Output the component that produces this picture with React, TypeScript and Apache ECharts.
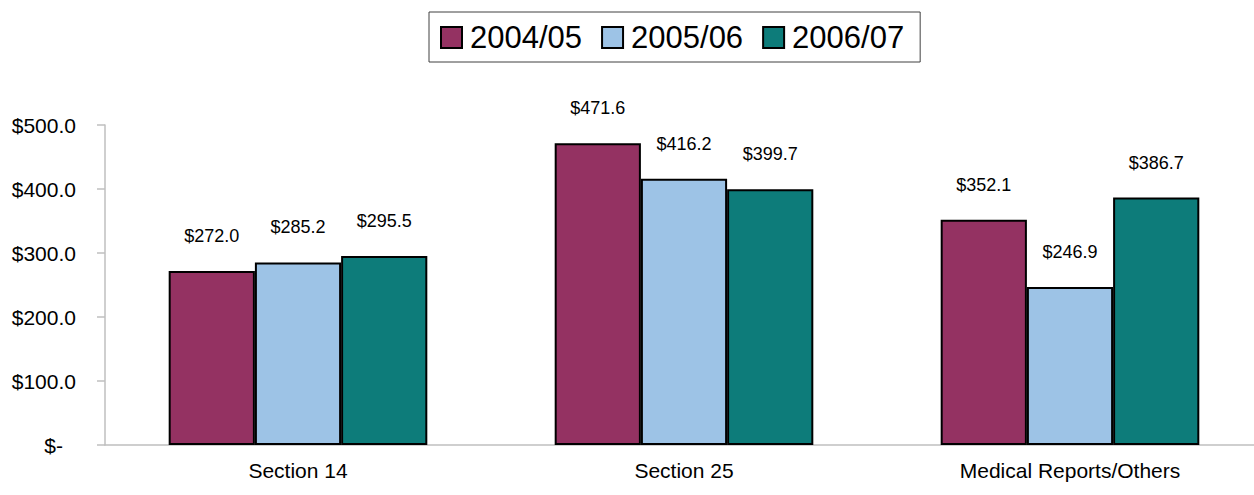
import React, { useEffect, useRef } from "react";
import * as echarts from "echarts";

const categories = ["Section 14", "Section 25", "Medical Reports/Others"];
const seriesNames = ["2004/05", "2005/06", "2006/07"];
const values2004 = [272.0, 471.6, 352.1];
const values2005 = [285.2, 416.2, 246.9];
const values2006 = [295.5, 399.7, 386.7];
const colors = ["#943262", "#9DC3E6", "#0D7C7A"];
const yTicks = { min: 0, max: 500, interval: 100 };

const FONT = "Arial, 'Liberation Sans', sans-serif";

export default function App() {
  const ref = useRef<HTMLDivElement>(null);
  useEffect(() => {
    if (!ref.current) return;
    const chart = echarts.init(ref.current, undefined, { renderer: "svg" });
    const data = [values2004, values2005, values2006];
    chart.setOption({
      animation: false,
      textStyle: { fontFamily: FONT },
      legend: {
        left: 429,
        top: 12,
        padding: [10, 16, 9, 11],
        borderColor: "#404040",
        borderWidth: 1,
        icon: "rect",
        itemWidth: 21,
        itemHeight: 21,
        itemGap: 19,
        textStyle: { fontSize: 31, color: "#000", fontFamily: FONT, padding: [0, 0, 0, 3] },
        data: seriesNames,
      },
      grid: { left: 105, top: 125, width: 1158, bottom: 50, containLabel: false, outerBoundsMode: "none" },
      xAxis: {
        type: "category",
        data: categories,
        axisLine: { lineStyle: { color: "#BFBFBF", width: 1.5 } },
        axisTick: { show: false },
        axisLabel: { fontSize: 21, color: "#000", margin: 15, fontFamily: FONT },
      },
      yAxis: {
        type: "value",
        min: yTicks.min,
        max: yTicks.max,
        interval: yTicks.interval,
        splitLine: { show: false },
        axisLine: { show: true, lineStyle: { color: "#BFBFBF", width: 1.5 } },
        axisTick: { show: true, length: 8, lineStyle: { color: "#BFBFBF", width: 1.5 } },
        axisLabel: {
          fontSize: 21,
          color: "#000",
          margin: 29,
          fontFamily: FONT,
          formatter: (v: number) => (v === 0 ? "{d|$-}" : "$" + v.toFixed(1)),
          rich: { d: { fontSize: 21, color: "#000", padding: [0, 13, 0, 0], fontFamily: FONT } },
        },
      },
      series: seriesNames.map((name, i) => ({
        name,
        type: "bar",
        data: data[i],
        barGap: "0%",
        barCategoryGap: "33%",
        itemStyle: { color: colors[i], borderColor: "#000", borderWidth: 2 },
        label: {
          show: true,
          position: "top",
          distance: 26,
          fontSize: 18,
          color: "#000",
          fontFamily: FONT,
          formatter: (p: any) => "$" + Number(p.value).toFixed(1),
        },
      })),
    });
    return () => chart.dispose();
  }, []);
  return (
    <div
      ref={ref}
      style={{ position: "fixed", left: 0, top: 0, width: 1254, height: 495, background: "#fff" }}
    />
  );
}
